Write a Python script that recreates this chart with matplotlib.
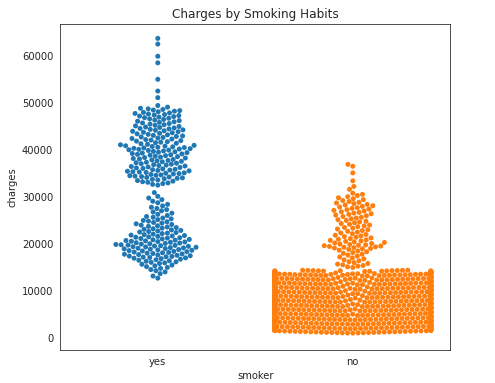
import warnings
import numpy as np
import pandas as pd
import matplotlib
matplotlib.use("Agg")
import matplotlib.pyplot as plt
import seaborn as sns

warnings.filterwarnings("ignore")

# ---- data (charges in thousands) ----
categories = ["yes", "no"]

# smokers: dense bins (low edge, high edge, count) and isolated points
smoker_bin_lo = [13, 14, 15, 16, 17, 18, 19, 20, 21, 22, 23, 24, 25, 26, 27, 28, 29,
                 32.5, 33, 34, 35, 36, 37, 38, 39, 40, 41, 42, 43, 44, 45, 46, 47, 48, 49]
smoker_bin_hi = [14, 15, 16, 17, 18, 19, 20, 21, 22, 23, 24, 25, 26, 27, 28, 29, 30,
                 33, 34, 35, 36, 37, 38, 39, 40, 41, 42, 43, 44, 45, 46, 47, 48, 49, 49.7]
smoker_bin_n = [2, 4, 6, 9, 13, 13, 15, 13, 11, 9, 8, 7, 6, 4, 4, 3, 3,
                3, 8, 11, 12, 10, 10, 10, 11, 13, 9, 9, 9, 10, 8, 8, 9, 8, 2]
smoker_single = [12.8, 30.2, 31.0, 51.2, 52.6, 55.1, 58.6, 60.0, 62.6, 63.8]

# non-smokers
nonsmoker_bin_lo = [1.1, 2, 3, 4, 5, 6, 7, 8, 9, 10, 11, 12, 13, 14,
                    15, 16, 17, 18, 19, 20, 21, 22, 23, 24, 25, 26, 27, 28, 29, 30]
nonsmoker_bin_hi = [2, 3, 4, 5, 6, 7, 8, 9, 10, 11, 12, 13, 14, 14.5,
                    16, 17, 18, 19, 20, 21, 22, 23, 24, 25, 26, 27, 28, 29, 30, 31]
nonsmoker_bin_n = [50, 80, 66, 70, 69, 69, 70, 71, 71, 72, 72, 73, 73, 32,
                   7, 5, 5, 6, 12, 9, 7, 6, 6, 6, 6, 7, 7, 7, 5, 4]
nonsmoker_single = [31.7, 32.3, 33.5, 35.2, 36.6, 37.0]

y_limits = (-2550, 66800)


def expand(lo, hi, n, single):
    vals = []
    for a, b, k in zip(lo, hi, n):
        step = (b - a) / k
        vals.extend(a + step * (i + 0.5) for i in range(k))
    vals.extend(single)
    return np.array(vals) * 1000.0


smoker_vals = expand(smoker_bin_lo, smoker_bin_hi, smoker_bin_n, smoker_single)
nonsmoker_vals = expand(nonsmoker_bin_lo, nonsmoker_bin_hi, nonsmoker_bin_n, nonsmoker_single)

df = pd.DataFrame({
    "smoker": ["yes"] * len(smoker_vals) + ["no"] * len(nonsmoker_vals),
    "charges": np.concatenate([smoker_vals, nonsmoker_vals]),
})

sns.set_style("white")
plt.rcParams["font.family"] = ["DejaVu Sans"]

fig = plt.figure(figsize=(495 / 72, 383 / 72), dpi=72)
ax = fig.add_axes([60.3 / 495, (383 - 350.3) / 383, 390 / 495, 326 / 383])
ax.set_ylim(*y_limits)

sns.swarmplot(data=df, x="smoker", y="charges", hue="smoker", order=categories,
              hue_order=categories, palette=["#1f77b4", "#ff7f0e"], size=5,
              legend=False, ax=ax)
ax.set_ylim(*y_limits)
ax.set_title("Charges by Smoking Habits")
ax.set_xlabel("smoker")
ax.set_ylabel("charges")

fig.savefig("out.png", dpi=72)
